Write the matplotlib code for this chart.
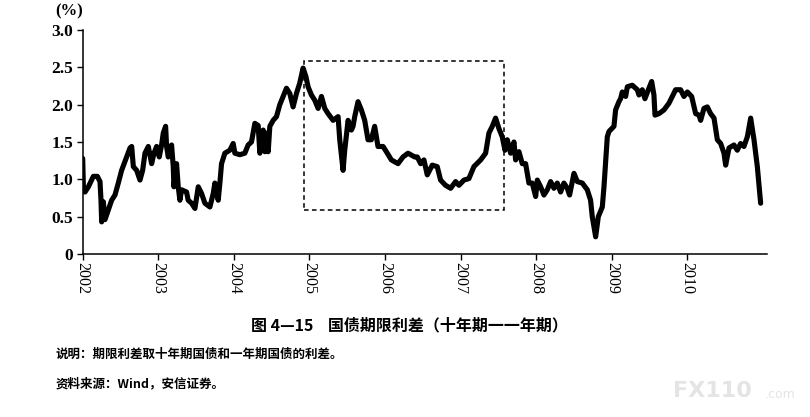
import matplotlib
matplotlib.use("Agg")
import matplotlib.pyplot as plt
from matplotlib.patches import Rectangle

# ---- data: 10y minus 1y government bond yield spread (%) ----
years = [
    2002.000, 2002.010, 2002.031, 2002.075, 2002.141, 2002.194, 2002.229, 2002.242,
    2002.251, 2002.273, 2002.295, 2002.339, 2002.383, 2002.427, 2002.471, 2002.515,
    2002.581, 2002.626, 2002.648, 2002.670, 2002.714, 2002.758, 2002.793, 2002.824,
    2002.868, 2002.912, 2002.943, 2002.978, 2003.013, 2003.044, 2003.066, 2003.097,
    2003.110, 2003.132, 2003.176, 2003.198, 2003.207, 2003.242, 2003.264, 2003.286,
    2003.308, 2003.374, 2003.396, 2003.441, 2003.485, 2003.529, 2003.573, 2003.617,
    2003.683, 2003.727, 2003.749, 2003.793, 2003.815, 2003.837, 2003.881, 2003.947,
    2003.991, 2004.013, 2004.079, 2004.145, 2004.189, 2004.233, 2004.278, 2004.322,
    2004.344, 2004.388, 2004.410, 2004.432, 2004.454, 2004.476, 2004.520, 2004.564,
    2004.608, 2004.652, 2004.696, 2004.740, 2004.784, 2004.828, 2004.872, 2004.916,
    2004.952, 2004.982, 2005.026, 2005.070, 2005.115, 2005.159, 2005.203, 2005.247,
    2005.313, 2005.379, 2005.401, 2005.445, 2005.467, 2005.511, 2005.555, 2005.577,
    2005.599, 2005.643, 2005.687, 2005.731, 2005.775, 2005.819, 2005.863, 2005.907,
    2005.974, 2006.018, 2006.084, 2006.172, 2006.238, 2006.304, 2006.392, 2006.427,
    2006.471, 2006.515, 2006.559, 2006.625, 2006.691, 2006.735, 2006.801, 2006.868,
    2006.934, 2006.978, 2007.044, 2007.110, 2007.176, 2007.265, 2007.331, 2007.375,
    2007.419, 2007.463, 2007.507, 2007.551, 2007.587, 2007.618, 2007.662, 2007.706,
    2007.728, 2007.772, 2007.816, 2007.860, 2007.904, 2007.948, 2007.993, 2008.015,
    2008.059, 2008.103, 2008.147, 2008.191, 2008.235, 2008.279, 2008.323, 2008.367,
    2008.412, 2008.442, 2008.500, 2008.544, 2008.610, 2008.676, 2008.720, 2008.742,
    2008.787, 2008.822, 2008.875, 2008.897, 2008.941, 2008.963, 2009.029, 2009.051,
    2009.095, 2009.117, 2009.139, 2009.184, 2009.206, 2009.272, 2009.338, 2009.360,
    2009.404, 2009.439, 2009.492, 2009.528, 2009.558, 2009.572, 2009.625, 2009.691,
    2009.757, 2009.801, 2009.845, 2009.911, 2009.955, 2010.000, 2010.057, 2010.110,
    2010.154, 2010.176, 2010.220, 2010.264, 2010.308, 2010.353, 2010.397, 2010.441,
    2010.485, 2010.507, 2010.551, 2010.617, 2010.661, 2010.705, 2010.749, 2010.794,
    2010.838, 2010.882, 2010.926, 2010.970,
]
spread = [
    1.28, 0.85, 0.83, 0.90, 1.04, 1.04, 0.97, 0.72,
    0.43, 0.70, 0.46, 0.59, 0.72, 0.79, 0.95, 1.12,
    1.30, 1.42, 1.44, 1.17, 1.12, 0.99, 1.12, 1.35,
    1.44, 1.21, 1.35, 1.44, 1.30, 1.46, 1.62, 1.71,
    1.44, 1.30, 1.46, 1.17, 0.90, 1.21, 0.90, 0.72,
    0.86, 0.83, 0.72, 0.68, 0.61, 0.90, 0.81, 0.68,
    0.63, 0.81, 0.95, 0.72, 0.95, 1.21, 1.35, 1.39,
    1.48, 1.35, 1.33, 1.35, 1.46, 1.50, 1.75, 1.72,
    1.35, 1.66, 1.37, 1.62, 1.37, 1.71, 1.79, 1.84,
    2.00, 2.11, 2.22, 2.15, 1.97, 2.15, 2.29, 2.49,
    2.38, 2.24, 2.13, 2.06, 1.95, 2.11, 1.95, 1.88,
    1.79, 1.84, 1.53, 1.12, 1.39, 1.79, 1.66, 1.71,
    1.84, 2.04, 1.93, 1.79, 1.53, 1.53, 1.71, 1.44,
    1.44, 1.37, 1.26, 1.21, 1.30, 1.35, 1.30, 1.30,
    1.21, 1.26, 1.06, 1.19, 1.17, 0.99, 0.92, 0.88,
    0.97, 0.92, 0.99, 1.01, 1.17, 1.26, 1.35, 1.62,
    1.71, 1.82, 1.68, 1.57, 1.39, 1.53, 1.35, 1.50,
    1.26, 1.37, 1.21, 1.21, 0.95, 0.95, 0.77, 0.99,
    0.90, 0.79, 0.86, 0.97, 0.88, 0.95, 0.83, 0.95,
    0.88, 0.79, 1.08, 0.97, 0.95, 0.86, 0.72, 0.50,
    0.23, 0.50, 0.63, 0.90, 1.57, 1.64, 1.71, 1.93,
    2.04, 2.08, 2.17, 2.11, 2.24, 2.26, 2.20, 2.13,
    2.20, 2.08, 2.22, 2.31, 2.13, 1.86, 1.88, 1.93,
    2.02, 2.11, 2.20, 2.20, 2.11, 2.17, 2.11, 1.88,
    1.86, 1.79, 1.95, 1.97, 1.88, 1.82, 1.53, 1.48,
    1.35, 1.19, 1.42, 1.46, 1.39, 1.48, 1.44, 1.57,
    1.82, 1.53, 1.17, 0.68,
]

year_ticks = list(range(2002, 2011))
y_ticks = [0, 0.5, 1.0, 1.5, 2.0, 2.5, 3.0]
y_tick_labels = ["0", "0.5", "1.0", "1.5", "2.0", "2.5", "3.0"]

# highlighted window (dashed box)
box_x = [2004.93, 2007.57]
box_y = [0.59, 2.59]

caption = "图 4—15    国债期限利差（十年期一一年期）"
note = "说明：期限利差取十年期国债和一年期国债的利差。"
source = "资料来源：Wind，安信证券。"

cjk = ["Noto Sans CJK SC", "DejaVu Sans"]
serif = ["Liberation Serif", "DejaVu Serif"]

fig = plt.figure(figsize=(8.1, 4.17), dpi=100, facecolor="white")
ax = fig.add_axes([82.7 / 810, 163 / 417, (766.7 - 82.7) / 810, 224 / 417])

ax.plot(years, spread, color="black", lw=3.7, solid_joinstyle="round",
        solid_capstyle="round", zorder=3)

ax.add_patch(Rectangle((box_x[0], box_y[0]), box_x[1] - box_x[0], box_y[1] - box_y[0],
                       fill=False, ec="black", lw=1.1, ls=(0, (3, 2.2)), zorder=2))

ax.set_xlim(2002, 2011.05)
ax.set_ylim(0, 3.0)
ax.set_xticks(year_ticks)
ax.set_xticklabels([str(y) for y in year_ticks], rotation=-90, family=serif,
                   fontsize=11.5)
ax.set_yticks(y_ticks)
ax.set_yticklabels(y_tick_labels, family=serif, fontsize=12.5, fontweight="bold")
ax.tick_params(axis="both", direction="out", length=4, width=1, pad=3)
ax.tick_params(axis="x", pad=2)

for side in ["top", "right"]:
    ax.spines[side].set_visible(False)
for side in ["left", "bottom"]:
    ax.spines[side].set_linewidth(1.1)

fig.text(55 / 810, 1 - 11 / 417, "(%)", family=serif, fontsize=12,
         fontweight="bold", va="center", ha="left")

fig.text(409 / 810, 1 - 325 / 417, caption, family=cjk, fontsize=11.5,
         fontweight="bold", ha="center", va="center")
fig.text(56 / 810, 1 - 354 / 417, note, family=cjk, fontsize=9,
         fontweight="bold", ha="left", va="center")
fig.text(56 / 810, 1 - 384 / 417, source, family=cjk, fontsize=9,
         fontweight="bold", ha="left", va="center")

# faint watermark
fig.text(673 / 810, 1 - 391 / 417, "FX110", family=["DejaVu Sans"], fontsize=16,
         fontweight="bold", color="#e4e4e4", ha="left", va="center")
fig.text(765 / 810, 1 - 395 / 417, ".com", family=["DejaVu Sans"], fontsize=9,
         color="#e4e4e4", ha="left", va="center")

fig.savefig("out.png", dpi=100, facecolor="white")
plt.close(fig)
